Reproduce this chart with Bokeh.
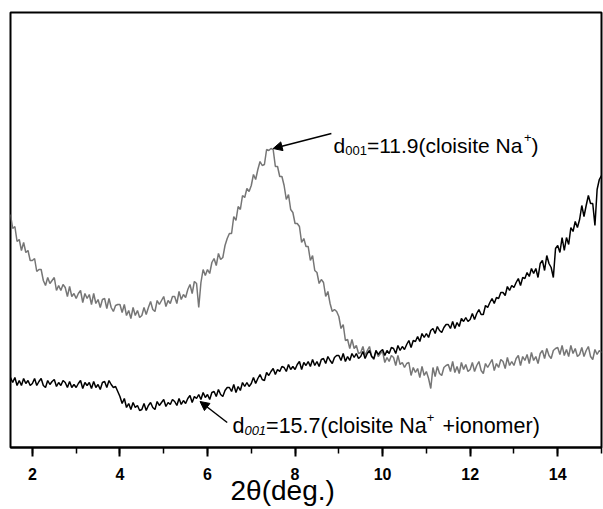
import numpy as np
from bokeh.plotting import figure
from bokeh.models import Range1d, SingleIntervalTicker, Label, Arrow, NormalHead
from bokeh.embed import file_html
from bokeh.resources import INLINE

# 2theta sampling grid (deg), step 0.05 from 1.5 to 15.0
two_theta = np.round(np.arange(1.5, 15.0001, 0.05), 2)

# intensity (a.u.): cloisite Na+
cloisite = [
    233, 219, 221, 206, 208, 197, 205, 195, 197, 187,
    187, 189, 176, 178, 178, 167, 162, 170, 164, 167,
    170, 157, 162, 157, 163, 160, 151, 161, 151, 154,
    149, 154, 157, 145, 154, 149, 153, 143, 154, 144,
    148, 140, 148, 149, 139, 149, 140, 136, 142, 143,
    143, 135, 143, 132, 137, 129, 140, 132, 137, 130,
    132, 140, 133, 140, 146, 138, 136, 147, 143, 147,
    151, 141, 147, 144, 151, 151, 144, 156, 148, 153,
    150, 158, 163, 154, 166, 164, 140, 165, 178, 172,
    178, 174, 185, 189, 182, 194, 188, 190, 202, 209,
    214, 214, 231, 227, 241, 238, 252, 250, 259, 256,
    262, 273, 268, 278, 286, 282, 283, 298, 297, 299,
    298, 281, 281, 271, 271, 262, 248, 253, 238, 235,
    224, 224, 221, 205, 209, 201, 201, 187, 192, 177,
    175, 164, 168, 165, 151, 156, 144, 136, 138, 136,
    131, 119, 123, 107, 108, 99, 108, 99, 102, 94,
    95, 101, 92, 97, 101, 91, 88, 97, 91, 94,
    96, 85, 90, 86, 92, 90, 82, 92, 83, 85,
    80, 84, 85, 72, 80, 75, 79, 70, 81, 72,
    76, 69, 59, 80, 71, 81, 74, 72, 80, 82,
    83, 76, 86, 75, 81, 74, 85, 78, 83, 76,
    78, 85, 76, 82, 86, 77, 74, 84, 80, 84,
    88, 77, 84, 80, 88, 86, 79, 90, 82, 86,
    82, 89, 92, 82, 91, 87, 93, 84, 95, 87,
    91, 84, 94, 97, 89, 99, 92, 89, 97, 99,
    100, 93, 102, 92, 98, 91, 102, 94, 99, 91,
    93, 100, 91, 97, 101, 91, 88, 98, 93, 97,
    95,
]

# intensity (a.u.): cloisite Na+ + ionomer
ionomer = [
    70, 65, 70, 62, 67, 62, 69, 64, 67, 62,
    64, 69, 62, 66, 69, 62, 60, 67, 63, 66,
    68, 61, 65, 62, 67, 65, 60, 66, 60, 63,
    60, 64, 67, 59, 65, 62, 65, 59, 66, 60,
    63, 58, 65, 66, 60, 67, 63, 60, 61, 56,
    51, 44, 49, 40, 44, 38, 45, 40, 42, 37,
    38, 44, 37, 42, 45, 40, 38, 46, 42, 45,
    48, 41, 45, 43, 48, 46, 42, 49, 43, 47,
    44, 49, 52, 45, 51, 49, 53, 48, 55, 50,
    53, 48, 55, 56, 51, 58, 53, 51, 57, 60,
    60, 56, 63, 55, 61, 57, 65, 61, 65, 61,
    64, 70, 64, 69, 73, 68, 67, 75, 72, 76,
    79, 73, 78, 76, 81, 80, 76, 83, 78, 81,
    78, 83, 86, 78, 85, 82, 86, 81, 88, 82,
    86, 81, 88, 89, 84, 91, 87, 84, 90, 92,
    92, 87, 94, 86, 91, 87, 94, 90, 94, 89,
    91, 96, 89, 94, 97, 91, 89, 97, 93, 96,
    98, 92, 97, 94, 100, 99, 94, 102, 97, 101,
    98, 103, 107, 100, 107, 106, 111, 106, 114, 110,
    114, 110, 117, 119, 114, 121, 117, 115, 120, 123,
    123, 119, 126, 119, 125, 121, 129, 126, 130, 126,
    128, 134, 128, 134, 138, 133, 133, 142, 140, 145,
    149, 144, 150, 149, 155, 155, 152, 161, 157, 162,
    160, 165, 169, 162, 170, 169, 175, 171, 179, 174,
    179, 170, 184, 187, 177, 192, 184, 180, 170, 199,
    202, 195, 210, 197, 210, 203, 220, 216, 226, 220,
    228, 242, 231, 242, 252, 244, 244, 222, 258, 268,
    272,
]

assert len(two_theta) == len(cloisite) == len(ionomer)

FONT = "Liberation Sans"

p = figure(width=603, height=509, output_backend="svg", toolbar_location=None,
           x_range=Range1d(1.5, 15.0), y_range=Range1d(0, 435))
p.min_border_left = 10
p.min_border_right = 2
p.min_border_top = 12
p.min_border_bottom = 62
p.xgrid.visible = False
p.ygrid.visible = False
p.yaxis.visible = False
p.outline_line_color = "black"
p.outline_line_width = 2
p.background_fill_color = "white"
p.border_fill_color = "white"

ax = p.xaxis[0]
ax.ticker = SingleIntervalTicker(interval=2, num_minor_ticks=2)
ax.axis_line_width = 2
ax.major_tick_line_width = 2
ax.minor_tick_line_width = 1.5
ax.major_tick_out = 9
ax.major_tick_in = 0
ax.minor_tick_out = 6
ax.minor_tick_in = 0
ax.major_label_text_font = FONT
ax.major_label_text_font_size = "16px"
ax.major_label_text_font_style = "bold"
ax.major_label_text_color = "black"
ax.major_label_standoff = 11
# trailing no-break spaces shift the centred title left, as in the original
ax.axis_label = "2θ(deg.)" + "\u00a0" * 6
ax.axis_label_text_font = FONT
ax.axis_label_text_font_size = "28px"
ax.axis_label_text_font_style = "normal"
ax.axis_label_text_color = "black"
ax.axis_label_standoff = -8

p.line(two_theta, cloisite, line_color="#767676", line_width=1.5)
p.line(two_theta, ionomer, line_color="black", line_width=1.5)

# Arial advance widths (per 1000 em)
W = {'d': 556, '=': 584, '.': 278, '(': 333, ')': 333, 'c': 500, 'l': 222,
     'o': 556, 'i': 222, 's': 500, 't': 278, 'e': 556, ' ': 278, 'N': 722,
     'a': 556, '+': 584, 'n': 556, 'm': 833, 'r': 333}


def width(txt, size):
    return sum(W.get(ch, 556) for ch in txt) * size / 1000.0


def rich_label(x, y, runs):
    off = 0.0
    for txt, size, dy, style, gap in runs:
        off += gap
        p.add_layout(Label(x=x, y=y, x_offset=off, y_offset=dy, text=txt,
                           text_font=FONT, text_font_size=f"{size}px",
                           text_font_style=style, text_color="black",
                           text_baseline="alphabetic", text_align="left"))
        off += width(txt, size)


rich_label(8.88, 302, [("d", 21, 0, "normal", 0), ("001", 13, -5, "normal", 0),
                       ("=11.9(cloisite Na", 21, 0, "normal", 0),
                       ("+", 13, 8, "normal", 0), (")", 21, 0, "normal", 0)])
rich_label(6.57, 22, [("d", 21.5, 0, "normal", 0), ("001", 13, -5, "italic", 0),
                      ("=15.7(cloisite Na", 21.5, 0, "normal", 0),
                      ("+", 13, 8, "normal", 0), ("+ionomer)", 21.5, 0, "normal", 8)])

p.add_layout(Arrow(x_start=8.83, y_start=314, x_end=7.50, y_end=299,
                   line_color="black", line_width=1.5,
                   end=NormalHead(size=9, fill_color="black", line_color="black")))
p.add_layout(Arrow(x_start=6.45, y_start=25, x_end=5.83, y_end=46,
                   line_color="black", line_width=1.5,
                   end=NormalHead(size=9, fill_color="black", line_color="black")))

open("out.html", "w").write(file_html(p, INLINE))
